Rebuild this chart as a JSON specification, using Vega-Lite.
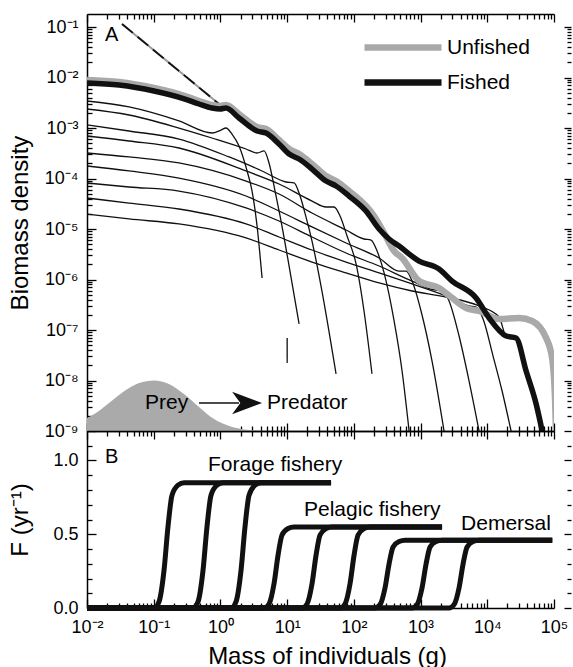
{
  "$schema": "https://vega.github.io/schema/vega-lite/v6.json",
  "padding": {"left": 8, "top": 13, "right": 0, "bottom": 0},
  "spacing": 0,
  "bounds": "flush",
  "config": {
    "view": {"stroke": null},
    "font": "Liberation Sans",
    "axis": {"labelFont": "Liberation Sans", "titleFont": "Liberation Sans", "labelFontSize": 18, "titleFontSize": 24, "titleFontWeight": "normal", "labelColor": "black", "titleColor": "black", "domainColor": "black", "tickColor": "black", "domainWidth": 1.5, "tickWidth": 1.3, "grid": false, "labelFlush": false, "labelOverlap": false, "labelBound": false},
    "text": {"font": "Liberation Sans", "color": "black"}
  },
  "datasets": {
    "prey": [{"m":0.01,"b":1.81e-9},{"m":0.0151,"b":2.49e-9},{"m":0.0214,"b":3.58e-9},{"m":0.0302,"b":5.16e-9},{"m":0.0427,"b":7.10e-9},{"m":0.0603,"b":8.91e-9},{"m":0.101,"b":1.0e-8},{"m":0.169,"b":8.53e-9},{"m":0.284,"b":5.40e-9},{"m":0.477,"b":2.99e-9},{"m":0.802,"b":1.73e-9},{"m":1.35,"b":1.26e-9},{"m":2.69,"b":1.05e-9},{"m":5.35,"b":1.0e-9}],
    "dash": [{"m":0.0335,"b":0.1146},{"m":0.953,"b":0.00299}],
    "unfished": [{"series":"Unfished","m":0.01,"b":8.92e-3},{"series":"Unfished","m":0.0302,"b":8.15e-3},{"series":"Unfished","m":0.101,"b":6.19e-3},{"series":"Unfished","m":0.294,"b":4.31e-3},{"series":"Unfished","m":0.477,"b":3.43e-3},{"series":"Unfished","m":0.748,"b":2.85e-3},{"series":"Unfished","m":0.986,"b":2.73e-3},{"series":"Unfished","m":1.21,"b":2.85e-3},{"series":"Unfished","m":1.90,"b":1.89e-3},{"series":"Unfished","m":3.54,"b":1.05e-3},{"series":"Unfished","m":4.83,"b":9.55e-4},{"series":"Unfished","m":7.56,"b":5.78e-4},{"series":"Unfished","m":10.7,"b":3.84e-4},{"series":"Unfished","m":15.1,"b":3.05e-4},{"series":"Unfished","m":23.6,"b":1.94e-4},{"series":"Unfished","m":38.3,"b":1.12e-4},{"series":"Unfished","m":54.1,"b":8.91e-5},{"series":"Unfished","m":84.7,"b":5.65e-5},{"series":"Unfished","m":152,"b":2.85e-5},{"series":"Unfished","m":201,"b":1.81e-5},{"series":"Unfished","m":284,"b":8.33e-6},{"series":"Unfished","m":401,"b":3.66e-6},{"series":"Unfished","m":528,"b":2.67e-6},{"series":"Unfished","m":950,"b":9.33e-7},{"series":"Unfished","m":1892,"b":6.79e-7},{"series":"Unfished","m":2965,"b":4.31e-7},{"series":"Unfished","m":4808,"b":2.73e-7},{"series":"Unfished","m":7534,"b":2.38e-7},{"series":"Unfished","m":15030,"b":1.65e-7},{"series":"Unfished","m":30000,"b":1.73e-7},{"series":"Unfished","m":47000,"b":1.51e-7},{"series":"Unfished","m":76200,"b":6.95e-8},{"series":"Unfished","m":93700,"b":2.79e-8},{"series":"Unfished","m":104000,"b":3.93e-9},{"series":"Unfished","m":107000,"b":1.0e-9},{"series":"Unfished","m":109000,"b":5.0e-10}],
    "fished": [{"series":"Fished","m":0.01,"b":7.78e-3},{"series":"Fished","m":0.0302,"b":7.10e-3},{"series":"Fished","m":0.101,"b":5.41e-3},{"series":"Fished","m":0.294,"b":3.75e-3},{"series":"Fished","m":0.477,"b":2.99e-3},{"series":"Fished","m":0.748,"b":2.49e-3},{"series":"Fished","m":0.986,"b":2.38e-3},{"series":"Fished","m":1.21,"b":2.49e-3},{"series":"Fished","m":1.90,"b":1.58e-3},{"series":"Fished","m":3.54,"b":8.73e-4},{"series":"Fished","m":4.83,"b":7.96e-4},{"series":"Fished","m":7.56,"b":4.82e-4},{"series":"Fished","m":10.7,"b":3.05e-4},{"series":"Fished","m":15.1,"b":2.43e-4},{"series":"Fished","m":23.6,"b":1.54e-4},{"series":"Fished","m":38.3,"b":8.91e-5},{"series":"Fished","m":54.1,"b":7.10e-5},{"series":"Fished","m":84.7,"b":4.50e-5},{"series":"Fished","m":152,"b":2.27e-5},{"series":"Fished","m":239,"b":1.0e-5},{"series":"Fished","m":337,"b":6.34e-6},{"series":"Fished","m":476,"b":4.60e-6},{"series":"Fished","m":950,"b":2.32e-6},{"series":"Fished","m":1892,"b":1.61e-6},{"series":"Fished","m":2965,"b":9.33e-7},{"series":"Fished","m":6792,"b":4.31e-7},{"series":"Fished","m":10640,"b":1.73e-7},{"series":"Fished","m":19140,"b":7.60e-8},{"series":"Fished","m":27040,"b":6.95e-8},{"series":"Fished","m":38200,"b":1.54e-8},{"series":"Fished","m":54000,"b":3.43e-9},{"series":"Fished","m":66400,"b":1.0e-9},{"series":"Fished","m":73600,"b":5.0e-10}],
    "cohorts": [
      {"c":1,"m":0.01,"b":3.43e-3},{"c":1,"m":0.0427,"b":2.61e-3},{"c":1,"m":0.239,"b":1.38e-3},{"c":1,"m":0.748,"b":7.96e-4},{"c":1,"m":1.02,"b":9.12e-4},{"c":1,"m":1.21,"b":1.0e-3},{"c":1,"m":1.49,"b":7.60e-4},{"c":1,"m":1.90,"b":4.40e-4},{"c":1,"m":2.51,"b":1.41e-4},{"c":1,"m":2.98,"b":5.65e-5},{"c":1,"m":3.54,"b":1.15e-5},{"c":1,"m":4.21,"b":1.07e-6},
      {"c":2,"m":0.01,"b":2.38e-3},{"c":2,"m":0.0427,"b":1.81e-3},{"c":2,"m":0.239,"b":1.0e-3},{"c":2,"m":0.748,"b":6.34e-4},{"c":2,"m":2.42,"b":3.84e-4},{"c":2,"m":3.54,"b":3.20e-4},{"c":2,"m":4.51,"b":3.51e-4},{"c":2,"m":5.35,"b":2.03e-4},{"c":2,"m":6.59,"b":5.65e-5},{"c":2,"m":7.83,"b":1.81e-5},{"c":2,"m":10.7,"b":1.85e-6},{"c":2,"m":15.1,"b":1.32e-7},
      {"c":3,"m":0.01,"b":1.15e-3},{"c":3,"m":0.0427,"b":8.73e-4},{"c":3,"m":0.239,"b":6.05e-4},{"c":3,"m":1.35,"b":2.67e-4},{"c":3,"m":4.21,"b":1.41e-4},{"c":3,"m":9.63,"b":8.53e-5},{"c":3,"m":12.7,"b":8.15e-5},{"c":3,"m":15.1,"b":5.16e-5},{"c":3,"m":18.5,"b":2.07e-5},{"c":3,"m":23.6,"b":5.78e-6},{"c":3,"m":32.2,"b":7.43e-7},{"c":3,"m":54.1,"b":1.35e-8},
      {"c":4,"m":0.01,"b":6.95e-4},{"c":4,"m":0.0427,"b":5.53e-4},{"c":4,"m":0.239,"b":4.02e-4},{"c":4,"m":2.42,"b":1.41e-4},{"c":4,"m":7.56,"b":7.78e-5},{"c":4,"m":23.6,"b":3.58e-5},{"c":4,"m":38.3,"b":2.73e-5},{"c":4,"m":50.5,"b":2.73e-5},{"c":4,"m":62.1,"b":1.81e-5},{"c":4,"m":79.1,"b":7.26e-6},{"c":4,"m":108,"b":2.03e-6},{"c":4,"m":142,"b":2.38e-7},{"c":4,"m":187,"b":1.35e-8},
      {"c":5,"m":0.01,"b":3.20e-4},{"c":5,"m":0.0427,"b":2.67e-4},{"c":5,"m":0.239,"b":2.03e-4},{"c":5,"m":2.42,"b":8.91e-5},{"c":5,"m":7.56,"b":4.93e-5},{"c":5,"m":23.6,"b":2.07e-5},{"c":5,"m":76.4,"b":9.55e-6},{"c":5,"m":142,"b":6.34e-6},{"c":5,"m":181,"b":6.05e-6},{"c":5,"m":223,"b":3.66e-6},{"c":5,"m":284,"b":1.35e-6},{"c":5,"m":401,"b":1.51e-7},{"c":5,"m":528,"b":1.54e-8},{"c":5,"m":673,"b":1.0e-9},
      {"c":6,"m":0.01,"b":1.77e-4},{"c":6,"m":0.0427,"b":1.41e-4},{"c":6,"m":0.239,"b":1.02e-4},{"c":6,"m":2.42,"b":4.50e-5},{"c":6,"m":7.56,"b":2.27e-5},{"c":6,"m":23.6,"b":1.10e-5},{"c":6,"m":76.4,"b":5.28e-6},{"c":6,"m":239,"b":2.67e-6},{"c":6,"m":476,"b":1.47e-6},{"c":6,"m":607,"b":1.47e-6},{"c":6,"m":746,"b":9.33e-7},{"c":6,"m":1016,"b":2.38e-7},{"c":6,"m":1486,"b":2.43e-8},{"c":6,"m":2249,"b":1.0e-9},
      {"c":7,"m":0.01,"b":8.15e-5},{"c":7,"m":0.0427,"b":6.79e-5},{"c":7,"m":0.239,"b":5.65e-5},{"c":7,"m":2.42,"b":2.61e-5},{"c":7,"m":7.56,"b":1.44e-5},{"c":7,"m":23.6,"b":6.95e-6},{"c":7,"m":76.4,"b":3.35e-6},{"c":7,"m":239,"b":1.85e-6},{"c":7,"m":746,"b":9.33e-7},{"c":7,"m":1706,"b":6.19e-7},{"c":7,"m":2099,"b":6.19e-7},{"c":7,"m":2673,"b":3.75e-7},{"c":7,"m":3776,"b":7.60e-8},{"c":7,"m":5333,"b":9.77e-9},{"c":7,"m":7534,"b":1.0e-9},
      {"c":8,"m":0.01,"b":4.11e-5},{"c":8,"m":0.0427,"b":3.27e-5},{"c":8,"m":0.239,"b":2.49e-5},{"c":8,"m":2.42,"b":1.26e-5},{"c":8,"m":7.56,"b":6.95e-6},{"c":8,"m":23.6,"b":3.84e-6},{"c":8,"m":76.4,"b":2.22e-6},{"c":8,"m":239,"b":1.35e-6},{"c":8,"m":746,"b":8.15e-7},{"c":8,"m":2411,"b":4.71e-7},{"c":8,"m":5333,"b":2.99e-7},{"c":8,"m":6792,"b":2.85e-7},{"c":8,"m":8650,"b":1.65e-7},{"c":8,"m":12200,"b":3.05e-8},{"c":8,"m":16670,"b":6.19e-9},{"c":8,"m":22750,"b":1.0e-9},
      {"c":9,"m":0.01,"b":1.98e-5},{"c":9,"m":0.0427,"b":1.58e-5},{"c":9,"m":0.239,"b":1.26e-5},{"c":9,"m":2.42,"b":6.64e-6},{"c":9,"m":7.56,"b":3.84e-6},{"c":9,"m":23.6,"b":2.22e-6},{"c":9,"m":76.4,"b":1.35e-6},{"c":9,"m":239,"b":8.53e-7},{"c":9,"m":746,"b":5.92e-7},{"c":9,"m":2411,"b":4.50e-7},{"c":9,"m":7534,"b":2.99e-7},{"c":9,"m":15030,"b":1.81e-7},{"c":9,"m":19140,"b":7.60e-8},{"c":9,"m":27040,"b":6.95e-8},{"c":9,"m":38200,"b":1.54e-8},{"c":9,"m":54000,"b":3.43e-9},{"c":9,"m":66400,"b":1.0e-9},
      {"c":10,"m":10,"b":6.95e-8},{"c":10,"m":10.02,"b":2.22e-8}
    ],
    "arrow": [{"m":0.477,"b":3.58e-9},{"m":1.9,"b":3.58e-9}],
    "arrowhead": [{"m":2.51,"b":3.58e-9}],
    "labelsA": [{"m":0.0186,"b":0.0528,"t":"A"}],
    "notesA": [{"m":0.0742,"b":2.73e-9,"t":"Prey"},{"m":5.0,"b":2.73e-9,"t":"Predator"}],
    "forage": [
      {"g":1,"m":0.01,"F":0},{"g":1,"m":0.101,"F":0},{"g":1,"m":0.1201,"F":0.0425},{"g":1,"m":0.1427,"F":0.255},{"g":1,"m":0.1638,"F":0.5525},{"g":1,"m":0.1881,"F":0.765},{"g":1,"m":0.2313,"F":0.833},{"g":1,"m":0.2846,"F":0.85},{"g":1,"m":45.5,"F":0.85},
      {"g":2,"m":0.01,"F":0},{"g":2,"m":0.3883,"F":0},{"g":2,"m":0.4615,"F":0.0425},{"g":2,"m":0.5483,"F":0.255},{"g":2,"m":0.6296,"F":0.5525},{"g":2,"m":0.7229,"F":0.765},{"g":2,"m":0.8893,"F":0.833},{"g":2,"m":1.094,"F":0.85},{"g":2,"m":45.5,"F":0.85},
      {"g":3,"m":0.01,"F":0},{"g":3,"m":1.442,"F":0},{"g":3,"m":1.713,"F":0.0425},{"g":3,"m":2.036,"F":0.255},{"g":3,"m":2.338,"F":0.5525},{"g":3,"m":2.685,"F":0.765},{"g":3,"m":3.302,"F":0.833},{"g":3,"m":4.062,"F":0.85},{"g":3,"m":45.5,"F":0.85}
    ],
    "pelagic": [
      {"g":4,"m":0.01,"F":0},{"g":4,"m":4.505,"F":0},{"g":4,"m":5.354,"F":0.0275},{"g":4,"m":6.363,"F":0.165},{"g":4,"m":7.305,"F":0.3575},{"g":4,"m":8.385,"F":0.495},{"g":4,"m":10.31,"F":0.539},{"g":4,"m":12.69,"F":0.55},{"g":4,"m":2099,"F":0.55},
      {"g":5,"m":0.01,"F":0},{"g":5,"m":16.73,"F":0},{"g":5,"m":19.88,"F":0.0275},{"g":5,"m":23.62,"F":0.165},{"g":5,"m":27.12,"F":0.3575},{"g":5,"m":31.14,"F":0.495},{"g":5,"m":38.31,"F":0.539},{"g":5,"m":47.12,"F":0.55},{"g":5,"m":2099,"F":0.55},
      {"g":6,"m":0.01,"F":0},{"g":6,"m":62.11,"F":0},{"g":6,"m":73.81,"F":0.0275},{"g":6,"m":87.7,"F":0.165},{"g":6,"m":100.7,"F":0.3575},{"g":6,"m":115.6,"F":0.495},{"g":6,"m":142.2,"F":0.539},{"g":6,"m":175.0,"F":0.55},{"g":6,"m":2099,"F":0.55}
    ],
    "demersal": [
      {"g":7,"m":0.01,"F":0},{"g":7,"m":207.9,"F":0},{"g":7,"m":247.1,"F":0.023},{"g":7,"m":293.6,"F":0.138},{"g":7,"m":337.1,"F":0.299},{"g":7,"m":387.0,"F":0.414},{"g":7,"m":476.1,"F":0.451},{"g":7,"m":585.6,"F":0.46},{"g":7,"m":94000,"F":0.46},
      {"g":8,"m":0.01,"F":0},{"g":8,"m":745.7,"F":0},{"g":8,"m":886.0,"F":0.023},{"g":8,"m":1053,"F":0.138},{"g":8,"m":1209,"F":0.299},{"g":8,"m":1388,"F":0.414},{"g":8,"m":1708,"F":0.451},{"g":8,"m":2101,"F":0.46},{"g":8,"m":94000,"F":0.46},
      {"g":9,"m":0.01,"F":0},{"g":9,"m":2675,"F":0},{"g":9,"m":3178,"F":0.023},{"g":9,"m":3778,"F":0.138},{"g":9,"m":4337,"F":0.299},{"g":9,"m":4980,"F":0.414},{"g":9,"m":6126,"F":0.451},{"g":9,"m":7537,"F":0.46},{"g":9,"m":94000,"F":0.46}
    ],
    "labelsB": [{"m":0.0186,"F":0.986,"t":"B"}],
    "notesB": [{"m":0.652,"F":0.932,"t":"Forage fishery"},{"m":17.9,"F":0.626,"t":"Pelagic fishery"},{"m":4047,"F":0.531,"t":"Demersal"}]
  },
  "vconcat": [
    {
      "width": 467,
      "height": 417,
      "resolve": {"axis": {"x": "independent", "y": "independent"}},
      "layer": [
        {
          "data": {"name": "prey"},
          "mark": {"type": "area", "color": "#aaaaaa", "interpolate": "monotone", "clip": true},
          "encoding": {
            "x": {"field": "m", "type": "quantitative", "scale": {"type": "log", "domain": [0.01, 100000], "nice": false},
              "axis": {"orient": "bottom", "values": [0.01,0.1,1,10,100,1000,10000,100000], "labels": false, "title": null, "domain": true, "tickSize": -8}},
            "y": {"field": "b", "type": "quantitative", "scale": {"type": "log", "domain": [1e-9, 0.181], "nice": false},
              "axis": {"orient": "left", "values": [1e-9,1e-8,1e-7,1e-6,1e-5,1e-4,1e-3,0.01,0.1],
                "labelExpr": "['10⁻⁹','10⁻⁸','10⁻⁷','10⁻⁶','10⁻⁵','10⁻⁴','10⁻³','10⁻²','10⁻¹'][round(log(datum.value)/LN10)+9]",
                "labelPadding": 18, "tickSize": -9,
                "title": "Biomass density", "titleX": -60, "titleY": 208.5, "titleBaseline": "alphabetic", "titleAlign": "center", "titleAngle": 270}},
            "y2": {"datum": 1e-9}
          }
        },
        {
          "data": {"name": "dash"},
          "mark": {"type": "line", "color": "#9a9a9a", "strokeWidth": 2},
          "encoding": {
            "x": {"field": "m", "type": "quantitative", "scale": {"type": "log", "domain": [0.01, 100000], "nice": false},
              "axis": {"orient": "bottom", "values": [0.02,0.03,0.04,0.05,0.06,0.07,0.08,0.09,0.2,0.3,0.4,0.5,0.6,0.7,0.8,0.9,2,3,4,5,6,7,8,9,20,30,40,50,60,70,80,90,200,300,400,500,600,700,800,900,2000,3000,4000,5000,6000,7000,8000,9000,20000,30000,40000,50000,60000,70000,80000,90000], "labels": false, "title": null, "domain": false, "tickSize": -5}},
            "y": {"field": "b", "type": "quantitative", "scale": {"type": "log", "domain": [1e-9, 0.181], "nice": false},
              "axis": {"orient": "left", "values": [2e-9,3e-9,4e-9,5e-9,6e-9,7e-9,8e-9,9e-9,2e-8,3e-8,4e-8,5e-8,6e-8,7e-8,8e-8,9e-8,2e-7,3e-7,4e-7,5e-7,6e-7,7e-7,8e-7,9e-7,2e-6,3e-6,4e-6,5e-6,6e-6,7e-6,8e-6,9e-6,2e-5,3e-5,4e-5,5e-5,6e-5,7e-5,8e-5,9e-5,2e-4,3e-4,4e-4,5e-4,6e-4,7e-4,8e-4,9e-4,2e-3,3e-3,4e-3,5e-3,6e-3,7e-3,8e-3,9e-3,0.02,0.03,0.04,0.05,0.06,0.07,0.08,0.09], "labels": false, "title": null, "domain": false, "tickSize": -5}}
          }
        },
        {
          "data": {"name": "dash"},
          "mark": {"type": "line", "color": "#111111", "strokeWidth": 1.8, "strokeDash": [14, 6]},
          "encoding": {
            "x": {"field": "m", "type": "quantitative", "scale": {"type": "log", "domain": [0.01, 100000], "nice": false},
              "axis": {"orient": "top", "values": [0.01,0.1,1,10,100,1000,10000,100000], "labels": false, "title": null, "domain": true, "tickSize": -8}},
            "y": {"field": "b", "type": "quantitative", "scale": {"type": "log", "domain": [1e-9, 0.181], "nice": false},
              "axis": {"orient": "right", "offset": 17, "values": [1e-9,1e-8,1e-7,1e-6,1e-5,1e-4,1e-3,0.01,0.1], "labels": false, "title": null, "domain": false, "tickSize": -7}}
          }
        },
        {
          "data": {"name": "cohorts"},
          "mark": {"type": "line", "color": "#111111", "strokeWidth": 1.3, "interpolate": "monotone", "clip": true},
          "encoding": {
            "x": {"field": "m", "type": "quantitative", "scale": {"type": "log", "domain": [0.01, 100000], "nice": false},
              "axis": {"orient": "top", "values": [0.02,0.03,0.04,0.05,0.06,0.07,0.08,0.09,0.2,0.3,0.4,0.5,0.6,0.7,0.8,0.9,2,3,4,5,6,7,8,9,20,30,40,50,60,70,80,90,200,300,400,500,600,700,800,900,2000,3000,4000,5000,6000,7000,8000,9000,20000,30000,40000,50000,60000,70000,80000,90000], "labels": false, "title": null, "domain": false, "tickSize": -5}},
            "y": {"field": "b", "type": "quantitative", "scale": {"type": "log", "domain": [1e-9, 0.181], "nice": false},
              "axis": {"orient": "right", "offset": 17, "values": [2e-9,3e-9,4e-9,5e-9,6e-9,7e-9,8e-9,9e-9,2e-8,3e-8,4e-8,5e-8,6e-8,7e-8,8e-8,9e-8,2e-7,3e-7,4e-7,5e-7,6e-7,7e-7,8e-7,9e-7,2e-6,3e-6,4e-6,5e-6,6e-6,7e-6,8e-6,9e-6,2e-5,3e-5,4e-5,5e-5,6e-5,7e-5,8e-5,9e-5,2e-4,3e-4,4e-4,5e-4,6e-4,7e-4,8e-4,9e-4,2e-3,3e-3,4e-3,5e-3,6e-3,7e-3,8e-3,9e-3,0.02,0.03,0.04,0.05,0.06,0.07,0.08,0.09], "labels": false, "title": null, "domain": false, "tickSize": -4}},
            "detail": {"field": "c", "type": "nominal"}
          }
        },
        {
          "data": {"name": "unfished"},
          "mark": {"type": "line", "strokeWidth": 6.5, "interpolate": "monotone", "clip": true},
          "encoding": {
            "x": {"field": "m", "type": "quantitative", "axis": null},
            "y": {"field": "b", "type": "quantitative", "axis": null},
            "color": {"field": "series", "type": "nominal", "scale": {"domain": ["Unfished", "Fished"], "range": ["#a9a9a9", "#111111"]},
              "legend": {"orient": "none", "legendX": 339, "legendY": 23, "title": null, "padding": 0, "symbolType": "M-14.4,0H1", "symbolSize": 100, "symbolStrokeWidth": 6.5, "labelFontSize": 21, "labelFont": "Liberation Sans", "labelColor": "black", "labelOffset": 0, "rowPadding": 8}}
          }
        },
        {
          "data": {"name": "fished"},
          "mark": {"type": "line", "strokeWidth": 5.5, "interpolate": "monotone", "clip": true},
          "encoding": {
            "x": {"field": "m", "type": "quantitative", "axis": null},
            "y": {"field": "b", "type": "quantitative", "axis": null},
            "color": {"field": "series", "type": "nominal", "scale": {"domain": ["Unfished", "Fished"], "range": ["#a9a9a9", "#111111"]},
              "legend": {"orient": "none", "legendX": 339, "legendY": 23, "title": null, "padding": 0, "symbolType": "M-14.4,0H1", "symbolSize": 100, "symbolStrokeWidth": 6.5, "labelFontSize": 21, "labelFont": "Liberation Sans", "labelColor": "black", "labelOffset": 0, "rowPadding": 8}}
          }
        },
        {
          "data": {"name": "arrow"},
          "mark": {"type": "line", "color": "#111111", "strokeWidth": 1.5},
          "encoding": {
            "x": {"field": "m", "type": "quantitative", "axis": null},
            "y": {"field": "b", "type": "quantitative", "axis": null}
          }
        },
        {
          "data": {"name": "arrowhead"},
          "mark": {"type": "point", "shape": "M1,0L-1,-0.75L-0.45,0L-1,0.75Z", "size": 900, "filled": true, "color": "#111111", "opacity": 1},
          "encoding": {
            "x": {"field": "m", "type": "quantitative", "axis": null},
            "y": {"field": "b", "type": "quantitative", "axis": null}
          }
        },
        {
          "data": {"name": "labelsA"},
          "mark": {"type": "text", "fontSize": 20, "align": "left", "baseline": "alphabetic"},
          "encoding": {
            "x": {"field": "m", "type": "quantitative", "axis": null},
            "y": {"field": "b", "type": "quantitative", "axis": null},
            "text": {"field": "t"}
          }
        },
        {
          "data": {"name": "notesA"},
          "mark": {"type": "text", "fontSize": 21, "align": "left", "baseline": "alphabetic"},
          "encoding": {
            "x": {"field": "m", "type": "quantitative", "axis": null},
            "y": {"field": "b", "type": "quantitative", "axis": null},
            "text": {"field": "t"}
          }
        }
      ]
    },
    {
      "width": 467,
      "height": 177,
      "resolve": {"axis": {"x": "independent", "y": "independent"}},
      "layer": [
        {
          "data": {"name": "forage"},
          "mark": {"type": "line", "color": "#111111", "strokeWidth": 5, "interpolate": "monotone", "strokeJoin": "round"},
          "encoding": {
            "x": {"field": "m", "type": "quantitative", "scale": {"type": "log", "domain": [0.01, 100000], "nice": false},
              "axis": {"orient": "bottom", "values": [0.01,0.1,1,10,100,1000,10000,100000],
                "labelExpr": "['10⁻²','10⁻¹','10⁰','10¹','10²','10³','10⁴','10⁵'][round(log(datum.value)/LN10)+2]",
                "labelPadding": 19, "tickSize": -9,
                "title": "Mass of individuals (g)", "titleX": 240, "titleY": 55, "titleBaseline": "alphabetic", "titleAlign": "center"}},
            "y": {"field": "F", "type": "quantitative", "scale": {"domain": [0, 1.2], "nice": false, "zero": false},
              "axis": {"orient": "left", "values": [0, 0.5, 1.0], "format": ".1f", "labelPadding": 18, "tickSize": -9,
                "title": "F (yr⁻¹)", "titleX": -60, "titleY": 88.5, "titleBaseline": "alphabetic", "titleAlign": "center", "titleAngle": 270}},
            "detail": {"field": "g", "type": "nominal"}
          }
        },
        {
          "data": {"name": "pelagic"},
          "mark": {"type": "line", "color": "#111111", "strokeWidth": 5, "interpolate": "monotone", "strokeJoin": "round"},
          "encoding": {
            "x": {"field": "m", "type": "quantitative", "scale": {"type": "log", "domain": [0.01, 100000], "nice": false},
              "axis": {"orient": "bottom", "values": [0.02,0.03,0.04,0.05,0.06,0.07,0.08,0.09,0.2,0.3,0.4,0.5,0.6,0.7,0.8,0.9,2,3,4,5,6,7,8,9,20,30,40,50,60,70,80,90,200,300,400,500,600,700,800,900,2000,3000,4000,5000,6000,7000,8000,9000,20000,30000,40000,50000,60000,70000,80000,90000], "labels": false, "title": null, "domain": false, "tickSize": -5}},
            "y": {"field": "F", "type": "quantitative", "scale": {"domain": [0, 1.2], "nice": false, "zero": false},
              "axis": {"orient": "left", "values": [0.1,0.2,0.3,0.4,0.6,0.7,0.8,0.9,1.1], "labels": false, "title": null, "domain": false, "tickSize": -5}},
            "detail": {"field": "g", "type": "nominal"}
          }
        },
        {
          "data": {"name": "demersal"},
          "mark": {"type": "line", "color": "#111111", "strokeWidth": 5, "interpolate": "monotone", "strokeJoin": "round"},
          "encoding": {
            "x": {"field": "m", "type": "quantitative", "scale": {"type": "log", "domain": [0.01, 100000], "nice": false},
              "axis": {"orient": "top", "values": [0.01,0.1,1,10,100,1000,10000,100000], "labels": false, "title": null, "domain": true, "tickSize": -8}},
            "y": {"field": "F", "type": "quantitative", "scale": {"domain": [0, 1.2], "nice": false, "zero": false},
              "axis": {"orient": "right", "offset": 17, "values": [0, 0.5, 1.0], "labels": false, "title": null, "domain": false, "tickSize": -7}},
            "detail": {"field": "g", "type": "nominal"}
          }
        },
        {
          "data": {"name": "labelsB"},
          "mark": {"type": "text", "fontSize": 20, "align": "left", "baseline": "alphabetic"},
          "encoding": {
            "x": {"field": "m", "type": "quantitative", "scale": {"type": "log", "domain": [0.01, 100000], "nice": false},
              "axis": {"orient": "top", "values": [0.02,0.03,0.04,0.05,0.06,0.07,0.08,0.09,0.2,0.3,0.4,0.5,0.6,0.7,0.8,0.9,2,3,4,5,6,7,8,9,20,30,40,50,60,70,80,90,200,300,400,500,600,700,800,900,2000,3000,4000,5000,6000,7000,8000,9000,20000,30000,40000,50000,60000,70000,80000,90000], "labels": false, "title": null, "domain": false, "tickSize": -5}},
            "y": {"field": "F", "type": "quantitative", "scale": {"domain": [0, 1.2], "nice": false, "zero": false},
              "axis": {"orient": "right", "offset": 17, "values": [0.1,0.2,0.3,0.4,0.6,0.7,0.8,0.9,1.1], "labels": false, "title": null, "domain": false, "tickSize": -4}},
            "text": {"field": "t"}
          }
        },
        {
          "data": {"name": "notesB"},
          "mark": {"type": "text", "fontSize": 21, "align": "left", "baseline": "alphabetic"},
          "encoding": {
            "x": {"field": "m", "type": "quantitative", "axis": null},
            "y": {"field": "F", "type": "quantitative", "axis": null},
            "text": {"field": "t"}
          }
        }
      ]
    }
  ]
}
